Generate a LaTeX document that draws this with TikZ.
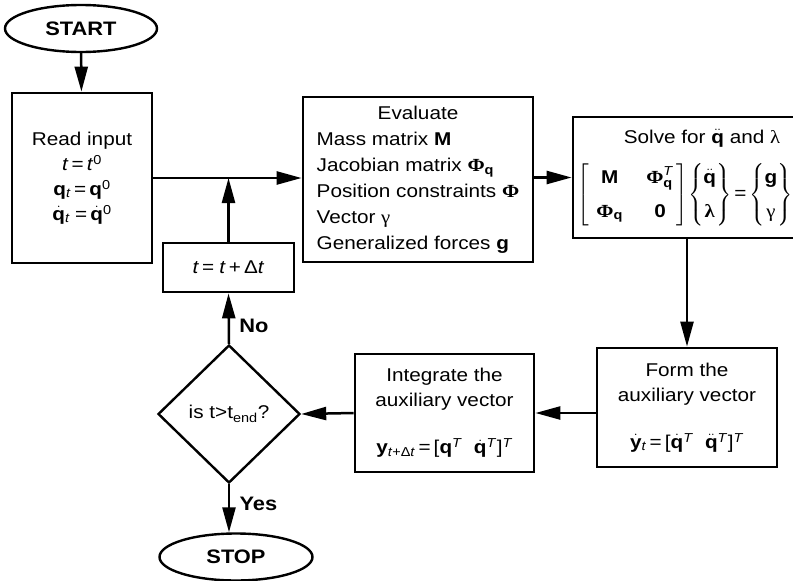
\documentclass[tikz,border=0pt]{standalone}
\usepackage{amsmath}
\usepackage{fontspec}
\setmainfont{Liberation Sans}[FakeStretch=1.12]
\newfontfamily\grk{Liberation Serif}[FakeStretch=1.12]
\usetikzlibrary{positioning,shapes.geometric,arrows.meta}

\newcommand{\vq}{\textbf{q}}
\newcommand{\vqd}{\ensuremath{\dot{\text{\textbf{q}}}}}
\newcommand{\vqdd}{\ensuremath{\ddot{\text{\textbf{q}}}}}
\newcommand{\vPhi}{{\grk\bfseries Φ}}
\newcommand{\vt}{\textit{t}}
\newcommand{\supT}{\textsuperscript{\textit{T}}}

\begin{document}
\begin{tikzpicture}[x=1pt, y=-1pt,
    font=\fontsize{18.5}{25}\selectfont,
    box/.style={draw, line width=2.8pt, rectangle, inner sep=2pt, align=center},
    term/.style={draw, line width=2.4pt, ellipse, inner sep=0pt, font=\fontsize{19.5}{24}\selectfont\bfseries},
    decision/.style={draw, line width=2.4pt, diamond, inner sep=0pt, minimum width=142pt, minimum height=138pt},
    arr/.style={line width=2.5pt, -{Triangle[length=25pt,width=13pt]}},
    lbl/.style={font=\fontsize{19.5}{24}\selectfont\bfseries}]
    \useasboundingbox (0,0) rectangle (793,581);

    % terminals
    \node[term, minimum width=152pt, minimum height=47pt] (start) at (81,28.5) {START};
    \node[term, minimum width=153pt, minimum height=47pt] (stop) at (236,557) {STOP};

    % boxes
    \node[box, minimum width=140pt, minimum height=170pt] (read) at (82,178)
        {Read input\\ \vt\,=\,\vt\textsuperscript{0}\\ \vq\textsubscript{\vt}\,=\,\vq\textsuperscript{0}\\ \vqd\textsubscript{\vt}\;=\,\vqd\textsuperscript{0}};
    \node[box, minimum width=230pt, minimum height=165pt, font=\fontsize{18.5}{26}\selectfont] (eval) at (418,179.5)
        {\begin{tabular}{@{}l@{}}
         \multicolumn{1}{@{}c@{}}{Evaluate}\\
         Mass matrix \textbf{M}\\
         Jacobian matrix \vPhi\textsubscript{\vq}\\
         Position constraints \vPhi\\
         Vector {\grk γ}\\
         Generalized forces \textbf{g}
         \end{tabular}};
    \node[box, minimum width=232pt, minimum height=121pt] (solve) at (689,177.5) {};
    \node (solvetitle) at (702,138) {Solve for \vqdd{} and {\grk λ}};
    \node[inner sep=0pt] (solvesys) at (685,195)
        {$\left[\begin{array}{@{\;\,}c@{\quad\;}c@{\,}}
            \text{\textbf{M}} & \text{\vPhi}^{\text{\textit{T}}}_{\text{\textbf{q}}}\\[9pt]
            \text{\vPhi}_{\text{\textbf{q}}} & \text{\textbf{0}}
          \end{array}\right]\!
          \left\{\begin{array}{@{}c@{}}
            \ddot{\text{\textbf{q}}}\\[9pt]
            \text{\grk\bfseries λ}
          \end{array}\right\}
          \text{=}
          \left\{\begin{array}{@{}c@{}}
            \text{\textbf{g}}\\[9pt]
            \text{\grk γ}
          \end{array}\right\}$};
    \node[box, minimum width=180pt, minimum height=119pt] (form) at (687,407.5)
        {Form the\\ auxiliary vector\\[22pt]
         $\dot{\text{\textbf{y}}}$\textsubscript{\vt}\,=\,[\vqd\supT\ \ \vqdd\supT]\supT};
    \node[box, minimum width=179pt, minimum height=118pt] (integ) at (444.5,413)
        {Integrate the\\ auxiliary vector\\[22pt]
         \textbf{y}\textsubscript{\vt+Δ\vt}\,=\,[\vq\supT\ \ \vqd\supT]\supT};
    \node[box, minimum width=131pt, minimum height=49pt] (incr) at (228.5,267.5)
        {\vt\,=\;\vt\,+\,Δ\vt};
    \node[decision] (check) at (229,414) {is t>t\textsubscript{end}?};

    % connectors
    \draw[arr] (start) -- (read);
    \draw[arr] (read.east) -- (read.east -| eval.west);
    \draw[arr] (incr.north) -- (incr.north |- read.east);
    \draw[arr] (solve.west -| eval.east) -- (solve.west);
    \draw[arr] (form.north |- solve.south) -- (form.north);
    \draw[arr] (form.west |- integ.east) -- (integ.east);
    \draw[arr] (integ.west) -- (check.east);
    \draw[arr] (check.north) -- (incr.south) node[lbl, right=6pt, pos=.35] {No};
    \draw[arr] (check.south) -- (check.south |- stop.north) node[lbl, right=6pt, pos=.4] {Yes};
\end{tikzpicture}
\end{document}
